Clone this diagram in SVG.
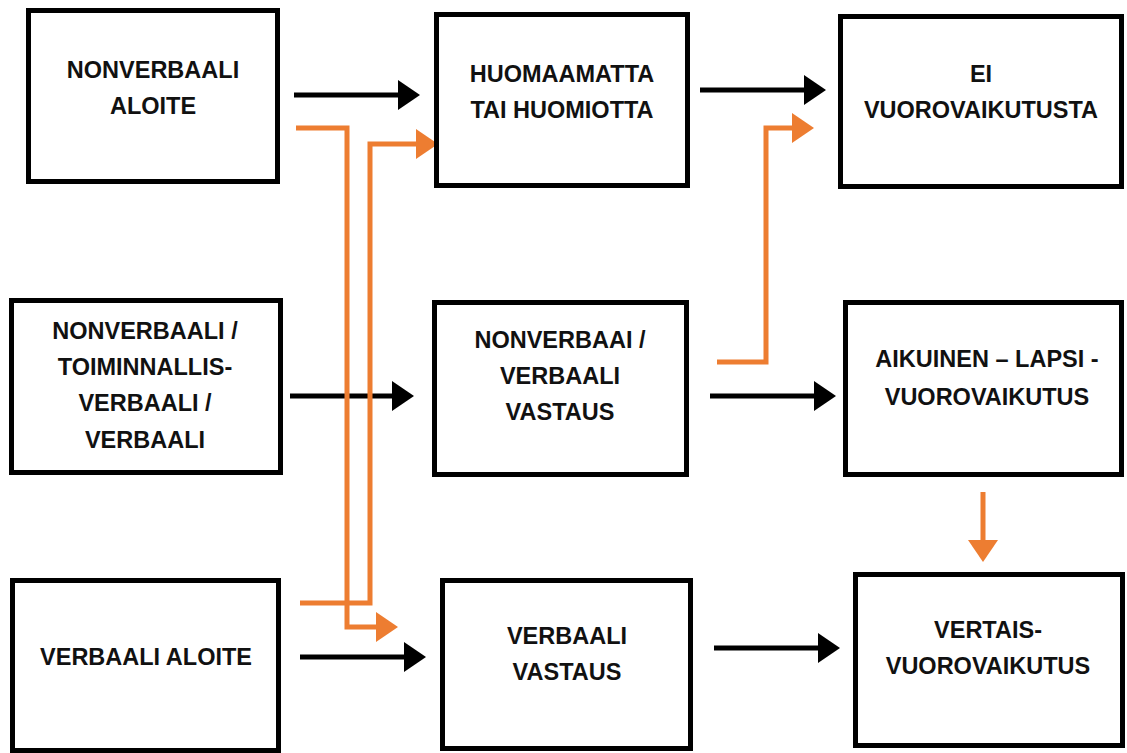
<svg xmlns="http://www.w3.org/2000/svg" width="1127" height="753" viewBox="0 0 1127 753">
<defs>
<style>
.box{fill:#fff;stroke:#000;stroke-width:5}
.t{font-family:"Liberation Sans",Arial,sans-serif;font-weight:bold;font-size:23.5px;fill:#111;text-anchor:middle}
.blk{fill:none;stroke:#000;stroke-width:5}
.org{fill:none;stroke:#ED7D31;stroke-width:5}
</style>
<marker id="ab" markerWidth="6" markerHeight="6" refX="0" refY="3" orient="auto" markerUnits="strokeWidth" viewBox="0 0 6 6"><path d="M0,0 L4.4,3 L0,6 z" fill="#000"/></marker>
<marker id="ao" markerWidth="6" markerHeight="6" refX="0" refY="3" orient="auto" markerUnits="strokeWidth" viewBox="0 0 6 6"><path d="M0,0 L4.4,3 L0,6 z" fill="#ED7D31"/></marker>
</defs>
<rect width="1127" height="753" fill="#fff"/>
<g id="connectors">
<line class="blk" x1="294" y1="95" x2="398" y2="95" marker-end="url(#ab)"/>
<line class="blk" x1="700" y1="90" x2="804" y2="90" marker-end="url(#ab)"/>
<line class="blk" x1="290" y1="396" x2="392" y2="396" marker-end="url(#ab)"/>
<line class="blk" x1="710" y1="396" x2="814" y2="396" marker-end="url(#ab)"/>
<line class="blk" x1="300" y1="657" x2="404" y2="657" marker-end="url(#ab)"/>
<line class="blk" x1="714" y1="648" x2="818" y2="648" marker-end="url(#ab)"/>
<polyline class="org" points="296,128 347,128 347,627 376,627" marker-end="url(#ao)"/>
<polyline class="org" points="300,603 370,603 370,144 416,144" marker-end="url(#ao)"/>
<polyline class="org" points="717,362 766,362 766,128 792,128" marker-end="url(#ao)"/>
<line class="org" x1="983" y1="492" x2="983" y2="540" marker-end="url(#ao)"/>
</g>
<g id="n1"><rect class="box" x="28.5" y="10.5" width="249" height="171"/>
<text class="t" x="153" y="78">NONVERBAALI</text><text class="t" x="153" y="114">ALOITE</text></g>
<g id="n2"><rect class="box" x="436.5" y="14.5" width="251" height="171"/>
<text class="t" x="562" y="82">HUOMAAMATTA</text><text class="t" x="562" y="118">TAI HUOMIOTTA</text></g>
<g id="n3"><rect class="box" x="840.5" y="16.5" width="281" height="170"/>
<text class="t" x="981" y="82">EI</text><text class="t" x="981" y="118">VUOROVAIKUTUSTA</text></g>
<g id="n4"><rect class="box" x="11.5" y="300.5" width="269" height="172"/>
<text class="t" x="145" y="339">NONVERBAALI /</text><text class="t" x="145" y="375">TOIMINNALLIS-</text><text class="t" x="145" y="411">VERBAALI /</text><text class="t" x="145" y="448">VERBAALI</text></g>
<g id="n5"><rect class="box" x="434.5" y="302.5" width="252" height="172"/>
<text class="t" x="560" y="348">NONVERBAAI /</text><text class="t" x="560" y="384">VERBAALI</text><text class="t" x="560" y="420">VASTAUS</text></g>
<g id="n6"><rect class="box" x="845.5" y="302.5" width="276" height="172"/>
<text class="t" x="987" y="367">AIKUINEN – LAPSI -</text><text class="t" x="987" y="405">VUOROVAIKUTUS</text></g>
<g id="n7"><rect class="box" x="12.5" y="580.5" width="266" height="170"/>
<text class="t" x="146" y="665">VERBAALI ALOITE</text></g>
<g id="n8"><rect class="box" x="442.5" y="580.5" width="248" height="168"/>
<text class="t" x="567" y="644">VERBAALI</text><text class="t" x="567" y="680">VASTAUS</text></g>
<g id="n9"><rect class="box" x="855.5" y="574.5" width="267" height="171"/>
<text class="t" x="988" y="638">VERTAIS-</text><text class="t" x="988" y="674">VUOROVAIKUTUS</text></g>
</svg>
